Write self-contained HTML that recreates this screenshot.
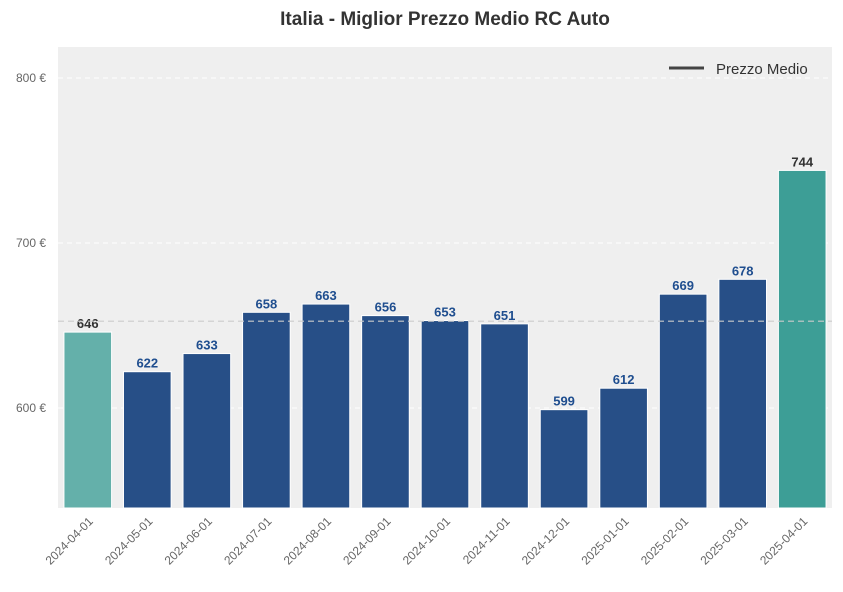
<!DOCTYPE html>
<html><head><meta charset="utf-8"><style>
body{margin:0;background:#fff;font-family:"Liberation Sans",Arial,sans-serif}
svg{display:block}
</style></head><body>
<svg id="chart" width="843" height="592" viewBox="0 0 843 592">
<rect x="58" y="47" width="774" height="461" fill="#efefef"/>
<text x="445" y="25" text-anchor="middle" font-size="19" font-weight="bold" fill="#333">Italia - Miglior Prezzo Medio RC Auto</text>
<g id="grid"></g><g id="bars"></g><g id="labels"></g>
<g>
<line x1="669" y1="68" x2="704" y2="68" stroke="#444" stroke-width="3"/>
<text x="716" y="74" font-size="15" fill="#333">Prezzo Medio</text>
</g>
</svg>
<script>
const categories=["2024-04-01","2024-05-01","2024-06-01","2024-07-01","2024-08-01","2024-09-01","2024-10-01","2024-11-01","2024-12-01","2025-01-01","2025-02-01","2025-03-01","2025-04-01"];
const prices=[646,622,633,658,663,656,653,651,599,612,669,678,744];
const yTicks=[600,700,800];
const NS="http://www.w3.org/2000/svg";
const x0=58,x1=832,yTop=47,yBot=508,vMin=539.4,vMax=818.8;
const y=v=>yBot-(v-vMin)/(vMax-vMin)*(yBot-yTop);
const step=(x1-x0)/categories.length;
const xc=i=>x0+step*(i+0.5);
function mk(tag,attrs,parent){const e=document.createElementNS(NS,tag);for(const k in attrs)e.setAttribute(k,attrs[k]);parent.appendChild(e);return e;}
const svg=document.getElementById('chart'),grid=document.getElementById('grid'),bars=document.getElementById('bars'),labels=document.getElementById('labels');
yTicks.forEach(t=>{
 const l=mk('line',{x1:x0,x2:x1,y1:y(t),y2:y(t),stroke:'#fff','stroke-dasharray':'5,4','stroke-width':1},grid);
 
 
 const tx=mk('text',{x:x0-12,y:y(t)+4,'text-anchor':'end','font-size':12,fill:'#666'},grid);
 tx.textContent=t+' €';
 
 
});
const mean=prices.reduce((a,b)=>a+b,0)/prices.length;
const bw=step*0.8;
prices.forEach((v,i)=>{
 const last=i===prices.length-1, first=i===0;
 const fill=last?'#3d9e96':first?'#64b0aa':'#274f87';
 const r=mk('rect',{x:xc(i)-bw/2,y:y(v),width:bw,height:yBot-y(v),fill:fill,stroke:'#fff','stroke-width':1},bars);
 
 
 const t=mk('text',{x:xc(i),y:y(v)-4,'text-anchor':'middle','font-size':13,'font-weight':'bold',fill:(first||last)?'#333':'#1f4e8f'},labels);
 t.textContent=v;
 
 
 const xl=mk('text',{x:xc(i)+6,y:yBot+14,'text-anchor':'end','font-size':12,fill:'#666',transform:`rotate(-45 ${xc(i)+6} ${yBot+14})`},labels);
 xl.textContent=categories[i];
 
 
});
const ml=mk('line',{x1:x0,x2:x1,y1:y(mean),y2:y(mean),stroke:'#ccc','stroke-dasharray':'6,4','stroke-width':1.2},labels);


</script>
</body></html>
